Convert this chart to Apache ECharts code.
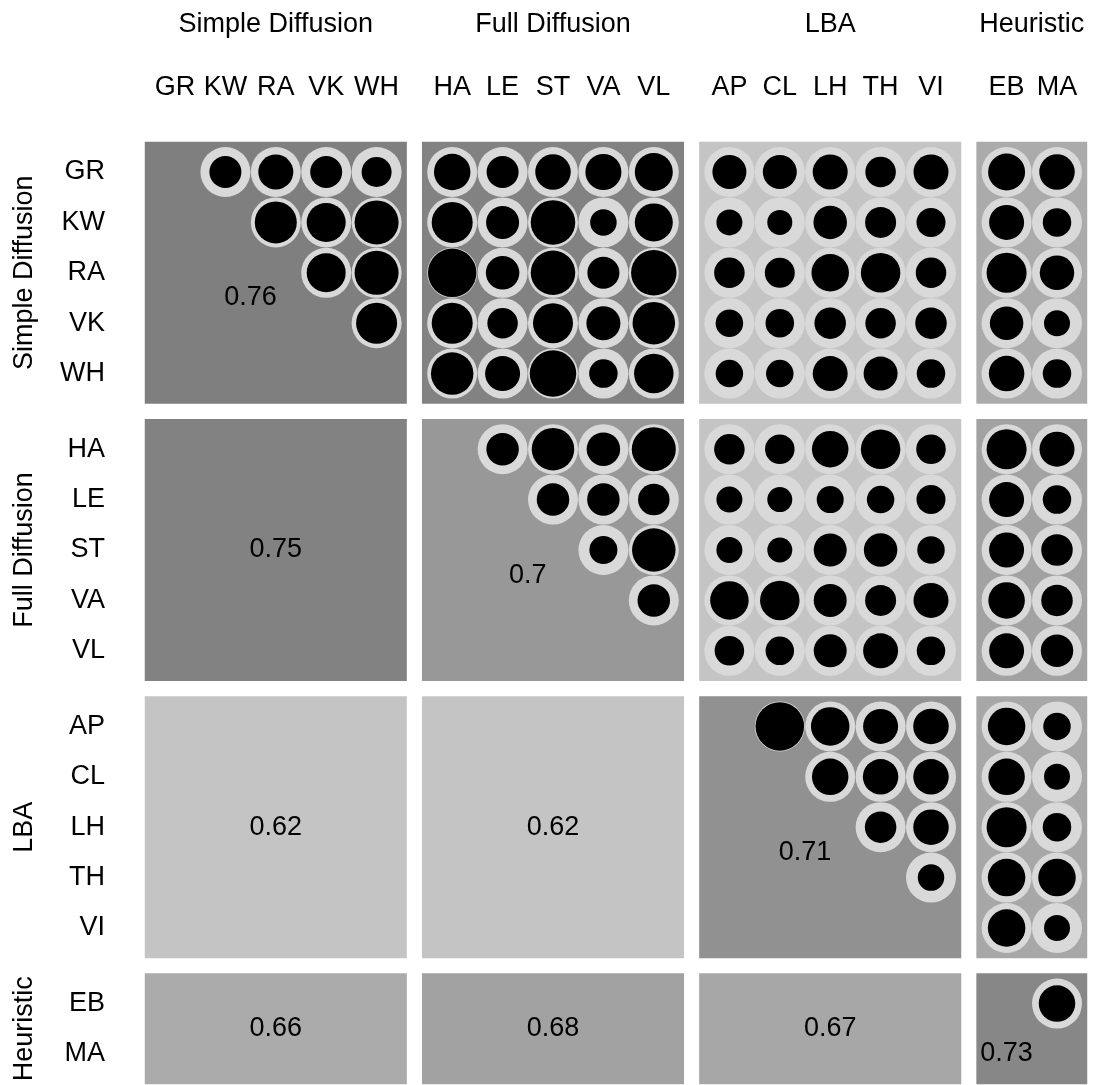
<!DOCTYPE html>
<html><head><meta charset="utf-8">
<script src="https://cdn.jsdelivr.net/npm/echarts@6/dist/echarts.min.js"></script>
<style>html,body{margin:0;padding:0;background:#fff}#c{width:1095px;height:1085px}</style>
</head><body><div id="c"></div>
<script>
// ---- data ----
const groups = ['Simple Diffusion', 'Full Diffusion', 'LBA', 'Heuristic'];
const groupSizes = [5, 5, 5, 2];
const models = ['GR','KW','RA','VK','WH','HA','LE','ST','VA','VL','AP','CL','LH','TH','VI','EB','MA'];

// upper-triangle correlations, row model vs. every later model (in order of `models`)
const corrGR = [0.64,0.70,0.64,0.60, 0.73,0.64,0.71,0.72,0.76, 0.68,0.68,0.70,0.61,0.70, 0.74,0.71];
const corrKW = [0.84,0.78,0.88, 0.82,0.66,0.89,0.53,0.76, 0.52,0.50,0.67,0.62,0.58, 0.70,0.57];
const corrRA = [0.78,0.88, 0.97,0.67,0.89,0.64,0.91, 0.61,0.60,0.75,0.79,0.61, 0.80,0.69];
const corrVK = [0.82, 0.82,0.61,0.80,0.68,0.85, 0.55,0.57,0.63,0.61,0.63, 0.67,0.52];
const corrWH = [0.85,0.70,0.93,0.57,0.79, 0.55,0.55,0.70,0.68,0.57, 0.71,0.57];
const corrHA = [0.65,0.85,0.67,0.88, 0.61,0.59,0.73,0.79,0.59, 0.80,0.70];
const corrLE = [0.65,0.65,0.63, 0.52,0.50,0.54,0.55,0.58, 0.70,0.57];
const corrST = [0.56,0.87, 0.52,0.50,0.66,0.67,0.55, 0.70,0.63];
const corrVA = [0.65, 0.77,0.79,0.66,0.62,0.70, 0.73,0.63];
const corrVL = [0.59,0.57,0.66,0.70,0.57, 0.70,0.65];
const corrAP = [0.97,0.77,0.70,0.71, 0.75,0.55];
const corrCL = [0.73,0.71,0.71, 0.73,0.52];
const corrLH = [0.63,0.71, 0.80,0.57];
const corrTH = [0.53, 0.75,0.75];
const corrVI = [0.75,0.52];
const corrEB = [0.73];
const upperRows = [corrGR,corrKW,corrRA,corrVK,corrWH,corrHA,corrLE,corrST,corrVA,corrVL,corrAP,corrCL,corrLH,corrTH,corrVI,corrEB,[]];

// block means (rows/cols in order of `groups`)
const meanSimple    = [0.76, 0.75, 0.62, 0.66];
const meanFull      = [0.75, 0.7,  0.62, 0.68];
const meanLBA       = [0.62, 0.62, 0.71, 0.67];
const meanHeuristic = [0.66, 0.68, 0.67, 0.73];
const blockMeans = [meanSimple, meanFull, meanLBA, meanHeuristic];

// ---- layout helpers ----
const CELL = 50.4;        // px per cell
const GAP = 0.5;          // extra cells between groups
const PAD = 0.1;          // block padding in cells
const FONT = '"Liberation Sans", Arial, Helvetica, sans-serif';
const FS = 27;

const groupOf = [], groupStart = [];
let k = 0;
groupSizes.forEach((n, g) => { groupStart.push(k); for (let t = 0; t < n; t++) { groupOf.push(g); k++; } });
const posOf = i => i + GAP * groupOf[i];
const gFirst = g => posOf(groupStart[g]);
const gLast = g => posOf(groupStart[g] + groupSizes[g] - 1);
const AXMIN = -0.5 - PAD;
const AXMAX = posOf(models.length - 1) + 0.5 + PAD;
const SPAN = (AXMAX - AXMIN) * CELL;

const blockData = [];
blockMeans.forEach((row, bi) => row.forEach((m, bj) => blockData.push([bj, bi, m])));

const circleData = [];
upperRows.forEach((row, i) => row.forEach((r, t) => {
  const j = i + 1 + t;
  circleData.push([posOf(j), posOf(i), r]);
}));

const labelData = models.map((m, i) => [posOf(i), i]);
const groupData = groups.map((g, gi) => [(gFirst(gi) + gLast(gi)) / 2, gi]);

const chart = echarts.init(document.getElementById('c'));
chart.setOption({
  animation: false,
  backgroundColor: '#ffffff',
  grid: { left: 175 - 0.6 * CELL, top: 172 - 0.6 * CELL, width: SPAN, height: SPAN, containLabel: false },
  xAxis: { type: 'value', min: AXMIN, max: AXMAX, show: false },
  yAxis: { type: 'value', min: AXMIN, max: AXMAX, inverse: true, show: false },
  visualMap: {
    show: false, type: 'continuous', seriesIndex: 0, dimension: 2,
    min: 0.62, max: 0.76,
    inRange: { color: ['#c4c4c4', '#adadad', '#9e9e9e', '#888888', '#7f7f7f'] }
  },
  series: [
    {
      type: 'custom', z: 1, clip: false,
      data: blockData,
      renderItem: (params, api) => {
        const bj = api.value(0), bi = api.value(1), m = api.value(2);
        const p0 = api.coord([gFirst(bj) - 0.5 - PAD, gFirst(bi) - 0.5 - PAD]);
        const p1 = api.coord([gLast(bj) + 0.5 + PAD, gLast(bi) + 0.5 + PAD]);
        const children = [{
          type: 'rect',
          shape: { x: p0[0], y: p0[1], width: p1[0] - p0[0], height: p1[1] - p0[1] },
          style: { fill: api.visual('color') }
        }];
        if (bi >= bj) {
          let cx = (gFirst(bj) + gLast(bj)) / 2, cy = (gFirst(bi) + gLast(bi)) / 2;
          if (bi === bj) { cx -= 0.5; cy += 0.5; }
          const c = api.coord([cx, cy]);
          children.push({
            type: 'text', x: c[0], y: c[1],
            style: { text: String(m), fill: '#000', fontSize: FS, fontFamily: FONT, align: 'center', verticalAlign: 'middle' }
          });
        }
        return { type: 'group', children };
      }
    },
    {
      type: 'scatter', z: 2, silent: true,
      data: circleData,
      symbol: 'circle', symbolSize: CELL - 0.4,
      itemStyle: { color: '#d9d9d9', opacity: 1 }
    },
    {
      type: 'scatter', z: 3, silent: true,
      data: circleData,
      symbol: 'circle', symbolSize: v => v[2] * (CELL - 0.4),
      itemStyle: { color: '#000000', opacity: 1 }
    },
    {
      type: 'custom', z: 4, clip: false, silent: true,
      data: labelData,
      renderItem: (params, api) => {
        const c = api.coord([api.value(0), api.value(0)]);
        const name = models[api.value(1)];
        return { type: 'group', children: [
          { type: 'text', x: c[0], y: 88, style: { text: name, fill: '#000', fontSize: FS, fontFamily: FONT, align: 'center', verticalAlign: 'middle' } },
          { type: 'text', x: 105, y: c[1], style: { text: name, fill: '#000', fontSize: FS, fontFamily: FONT, align: 'right', verticalAlign: 'middle' } }
        ]};
      }
    },
    {
      type: 'custom', z: 4, clip: false, silent: true,
      data: groupData,
      renderItem: (params, api) => {
        const c = api.coord([api.value(0), api.value(0)]);
        const name = groups[api.value(1)];
        return { type: 'group', children: [
          { type: 'text', x: c[0], y: 25, style: { text: name, fill: '#000', fontSize: FS, fontFamily: FONT, align: 'center', verticalAlign: 'middle' } },
          { type: 'text', x: 25, y: c[1], rotation: Math.PI / 2, style: { text: name, fill: '#000', fontSize: FS, fontFamily: FONT, align: 'center', verticalAlign: 'middle' } }
        ]};
      }
    }
  ]
});
</script></body></html>
